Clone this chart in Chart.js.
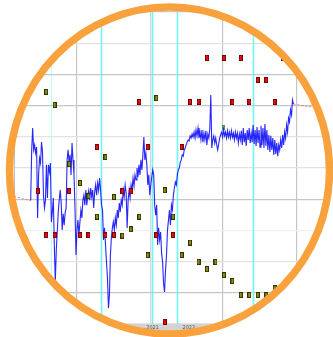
<!DOCTYPE html>
<html><head><meta charset="utf-8">
<style>html,body{margin:0;padding:0;background:#fff;overflow:hidden}</style>
<script src="https://cdn.jsdelivr.net/npm/chart.js@4.4.1/dist/chart.umd.min.js"></script>
</head><body>
<canvas id="c" width="333" height="337" style="display:block;width:333px;height:337px"></canvas>
<script>
// ---- data (x in days, y in index points) ----
const blueStartDay = 22.2;
const blueStepDay = 0.814;
const blueValues = [
39.7,55.8,62.8,55.8,57.4,54.8,56.7,34.0,47.8,53.2,
51.6,58.3,55.1,41.3,37.2,39.7,51.0,40.4,51.0,48.7,
51.6,32.7,35.9,40.4,25.3,13.5,23.7,29.5,35.9,39.7,
42.9,38.8,30.1,35.3,31.7,35.6,37.2,52.6,55.8,51.9,
54.2,47.8,58.0,52.6,47.8,37.2,22.1,30.1,33.3,28.5,
32.7,36.5,34.0,39.7,41.3,38.1,42.9,38.1,41.3,42.9,
39.7,43.6,40.7,42.9,37.2,42.3,44.6,41.3,45.2,42.9,
46.8,42.9,38.1,36.5,26.9,30.8,25.3,19.9,14.7,5.1,
9.3,22.1,27.9,30.8,32.7,30.1,34.0,31.7,36.5,34.0,
38.8,35.9,39.7,38.1,42.9,40.7,44.6,42.0,30.8,39.7,
42.9,40.4,44.6,42.9,46.8,44.2,47.8,46.2,50.0,47.1,
51.0,47.8,52.6,49.4,54.2,59.9,52.6,54.8,51.0,44.6,
47.8,41.3,44.6,47.1,49.4,47.8,38.1,34.9,38.1,25.3,
30.8,26.9,29.5,22.8,19.9,13.1,10.3,17.3,22.1,30.1,
33.3,36.5,31.7,38.1,36.5,41.3,43.6,45.5,44.6,47.8,
49.4,50.0,51.9,52.6,54.2,53.8,55.8,56.4,57.4,58.3,
59.0,58.7,60.3,59.6,60.9,59.9,61.5,59.6,62.2,60.3,
62.8,59.6,61.5,59.0,62.2,58.3,61.2,59.0,61.9,57.4,
60.9,59.6,62.8,73.4,56.4,59.0,60.3,58.0,59.6,57.4,
55.8,57.7,59.6,60.6,61.5,59.9,62.2,60.3,61.5,59.6,
61.9,59.9,61.5,59.6,61.9,59.9,61.2,59.0,61.5,59.6,
61.2,58.0,60.9,59.0,61.9,57.4,62.8,58.3,61.2,57.1,
62.2,59.0,62.8,58.0,61.2,58.3,63.8,57.7,62.2,57.1,
63.1,58.0,62.2,56.7,63.5,57.4,62.8,56.4,64.1,57.1,
62.2,55.8,60.6,55.1,60.3,55.8,59.6,54.2,59.0,54.5,
58.0,53.8,57.4,55.8,59.0,56.4,60.6,57.4,61.5,59.6,
63.8,61.5,66.0,64.7,68.6,67.0,71.8,70.5
];
const redDays   = [28,35,42,54,63,70,77,84,91,98,105,112,119,126,133,140,147,154,161,168,182,189,196,203,210,217,224,231];
const redValues = [42.6,28.5,28.5,42.6,28.5,28.5,56.7,28.5,28.5,42.6,42.6,71.2,56.7,28.5,0.6,28.5,56.7,71.2,71.2,85.3,85.3,71.2,85.3,71.2,78.2,78.2,71.2,85.3];
const oliveDays   = [35,42,54,63,70,77,84,91,98,105,112,119,126,133,140,147,154,161,168,175,182,189,196,203,210,217,224];
const oliveValues = [74.4,70.2,51.3,45.2,41.0,34.4,53.5,40.7,28.3,30.4,34.4,22.1,72.4,42.9,34.4,22.1,26.1,19.9,17.6,19.9,15.7,13.8,9.3,9.3,9.3,9.3,11.5];
const greenDays   = [182];
const greenValues = [63.1];
const dashLeftDays    = [8.4, 22.2];
const dashLeftValues  = [40.9, 39.5];
const dashRightDays   = [239.6, 268.1];
const dashRightValues = [70.5, 68.7];
const cyanDays   = [39.3, 80, 122.3, 143.5, 206.2];
const xGridDays  = [60, 121, 181, 242];
const yTickValues = [0,10,20,30,40,50,60,70,80,90,100];
const yMajorTicks = [10,40,70,80,100];
const xLabelDays = [123, 153];
const xLabelTexts = ['2021', '2022'];

// ---- marker images ----
function marker(w, h, fill, edge) {
  const c = document.createElement('canvas');
  c.width = w; c.height = h;
  const g = c.getContext('2d');
  g.fillStyle = fill; g.fillRect(0, 0, w, h);
  g.strokeStyle = edge; g.lineWidth = 1; g.strokeRect(0.5, 0.5, w - 1, h - 1);
  return c;
}
const redImg = marker(4, 6, '#ee1010', 'rgba(90,0,0,0.8)');
const oliveImg = marker(4, 6, '#8e8e12', 'rgba(35,35,0,0.85)');
const greenImg = marker(3, 5, '#5cc05c', 'rgba(40,120,40,0.6)');

const pts = (xs, ys) => xs.map((x, i) => ({x: x, y: ys[i]}));
const bluePts = blueValues.map((v, i) => ({x: blueStartDay + i * blueStepDay, y: v}));

const deco = {
  id: 'deco',
  beforeDatasetsDraw(chart) {
    const {ctx, chartArea: a, scales: {x}} = chart;
    ctx.save();
    cyanDays.forEach((d, i) => {
      const px = Math.round(x.getPixelForValue(d)) + 0.5;
      ctx.strokeStyle = i === 0 ? 'rgba(120,255,255,0.55)' : 'rgba(90,245,245,0.85)';
      ctx.lineWidth = i === 0 ? 1 : 1.6;
      ctx.beginPath(); ctx.moveTo(px, a.top); ctx.lineTo(px, a.bottom); ctx.stroke();
    });
    // bottom axis band
    ctx.fillStyle = '#d3d3d3';
    ctx.fillRect(0, a.bottom, chart.width, chart.height - a.bottom);
    ctx.fillStyle = '#555';
    ctx.font = '5px "DejaVu Sans", sans-serif';
    ctx.textAlign = 'center'; ctx.textBaseline = 'middle';
    xLabelDays.forEach((d, i) => ctx.fillText(xLabelTexts[i], x.getPixelForValue(d), a.bottom + 4));
    ctx.restore();
  },
  afterDraw(chart) {
    const ctx = chart.ctx;
    const cx = 169.5, cy = 170.5, rx = 160, ry = 163.5;
    ctx.save();
    ctx.beginPath();
    ctx.rect(0, 0, chart.width, chart.height);
    ctx.ellipse(cx, cy, rx, ry, 0, 0, Math.PI * 2);
    ctx.fillStyle = '#ffffff';
    ctx.fill('evenodd');
    ctx.beginPath();
    ctx.ellipse(cx, cy, rx, ry, 0, 0, Math.PI * 2);
    ctx.strokeStyle = '#f9a23d';
    ctx.lineWidth = 7.5;
    ctx.stroke();
    ctx.restore();
  }
};

new Chart(document.getElementById('c'), {
  type: 'line',
  data: {
    datasets: [
      {data: pts(redDays, redValues), showLine: false, pointStyle: redImg, pointRadius: 3, order: 1, clip: false},
      {data: pts(oliveDays, oliveValues), showLine: false, pointStyle: oliveImg, pointRadius: 3, order: 2, clip: false},
      {data: pts(greenDays, greenValues), showLine: false, pointStyle: greenImg, pointRadius: 3, order: 4, clip: false},
      {data: bluePts, borderColor: 'rgba(15,15,250,0.9)', borderWidth: 1.1, pointRadius: 0, tension: 0, order: 3},
      {data: pts(dashLeftDays, dashLeftValues), borderColor: 'rgba(235,90,90,0.8)', borderWidth: 1, borderDash: [2, 2], pointRadius: 0, order: 5},
      {data: pts(dashRightDays, dashRightValues), borderColor: 'rgba(235,90,90,0.8)', borderWidth: 1, borderDash: [2, 2], pointRadius: 0, order: 5}
    ]
  },
  options: {
    responsive: false,
    animation: false,
    events: [],
    layout: {padding: {left: 14, top: 12, right: 0, bottom: 13}},
    plugins: {legend: {display: false}, tooltip: {enabled: false}},
    scales: {
      x: {
        type: 'linear', min: 8.39, max: 268.1,
        afterBuildTicks: s => { s.ticks = xGridDays.map(v => ({value: v})); },
        ticks: {display: false},
        grid: {drawTicks: false, lineWidth: 1.2, color: ctx => (ctx.tick && ctx.tick.value === 121) ? '#d6d6d6' : '#c6c6c6'},
        border: {display: false}
      },
      y: {
        type: 'linear', min: 0, max: 100,
        afterBuildTicks: s => { s.ticks = yTickValues.map(v => ({value: v})); },
        ticks: {display: false},
        grid: {drawTicks: false, lineWidth: 1.2, color: ctx => {
          const v = ctx.tick ? ctx.tick.value : 0;
          if (yMajorTicks.includes(v)) return '#c6c6c6';
          if (v === 30) return '#efefef';
          return '#e3e3e3';
        }},
        border: {display: true, color: '#c0c0c0', width: 1}
      }
    }
  },
  plugins: [deco]
});
</script>
</body></html>
